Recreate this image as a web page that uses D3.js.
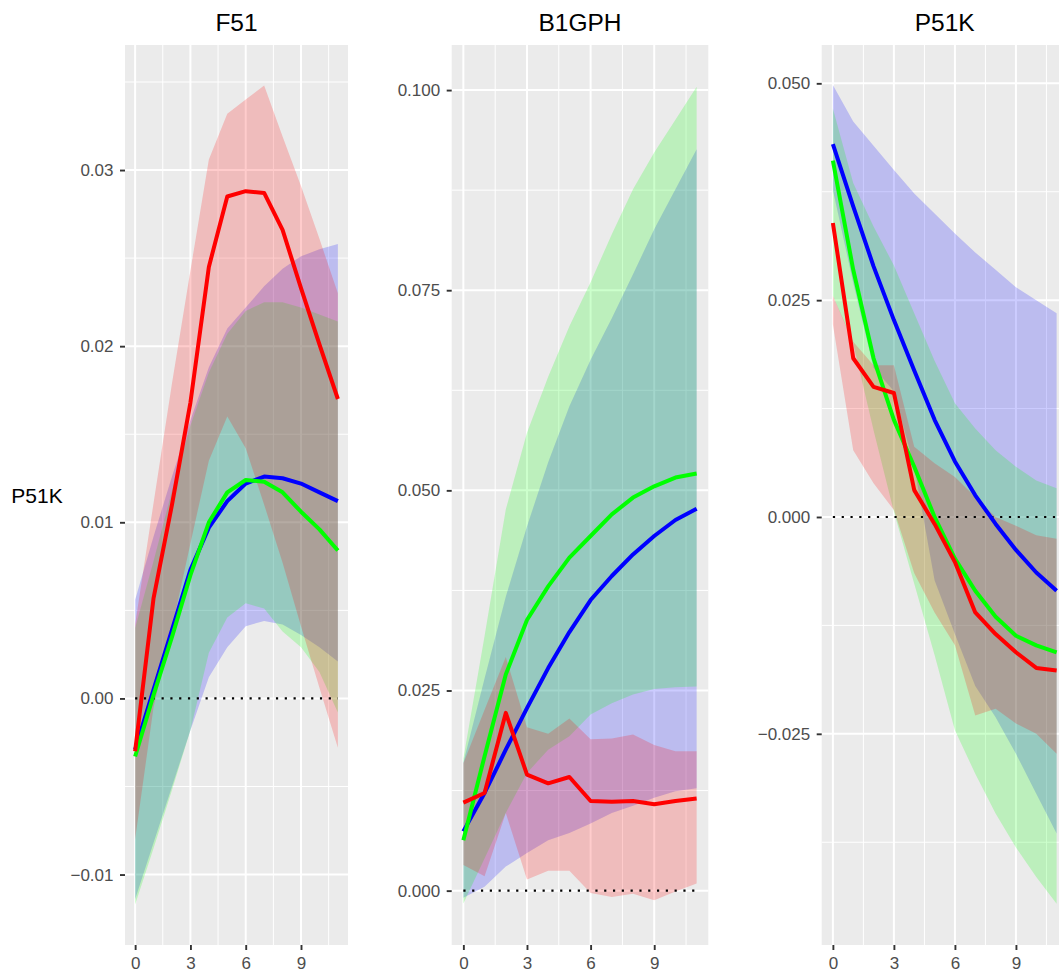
<!DOCTYPE html>
<html>
<head>
<meta charset="utf-8">
<script src="https://cdn.jsdelivr.net/npm/d3@7"></script>
<style>
  body { margin: 0; background: #ffffff; }
  svg { display: block; font-family: "Liberation Sans", Arial, Helvetica, sans-serif; }
</style>
</head>
<body>
<div id="chart"></div>
<script>
// horizon steps shared by every panel
var steps = [0, 1, 2, 3, 4, 5, 6, 7, 8, 9, 10, 11];
var xTicks = [0, 3, 6, 9];

// ---- F51 panel ----
var f51Red = [-0.0030, 0.0057, 0.0110, 0.0168, 0.0245, 0.0285, 0.0288, 0.0287, 0.0266, 0.0233, 0.0201, 0.0170];
var f51RedLo = [-0.0080, -0.0005, 0.0040, 0.0088, 0.0135, 0.0160, 0.0142, 0.0110, 0.0077, 0.0041, 0.0006, -0.0028];
var f51RedHi = [0.0042, 0.0111, 0.0179, 0.0243, 0.0306, 0.0332, 0.0340, 0.0348, 0.0319, 0.0291, 0.0261, 0.0230];
var f51Green = [-0.0033, 0.0002, 0.0035, 0.0070, 0.0100, 0.0117, 0.0124, 0.0123, 0.0117, 0.0106, 0.0096, 0.0084];
var f51GreenLo = [-0.0117, -0.0085, -0.0052, -0.0018, 0.0026, 0.0046, 0.0054, 0.0051, 0.0038, 0.0029, 0.0015, -0.0008];
var f51GreenHi = [0.0040, 0.0078, 0.0118, 0.0155, 0.0185, 0.0207, 0.0220, 0.0225, 0.0225, 0.0222, 0.0218, 0.0214];
var f51Blue = [-0.0029, 0.0005, 0.0039, 0.0073, 0.0097, 0.0112, 0.0122, 0.0126, 0.0125, 0.0122, 0.0117, 0.0112];
var f51BlueLo = [-0.0114, -0.0082, -0.0050, -0.0018, 0.0012, 0.0029, 0.0041, 0.0044, 0.0042, 0.0036, 0.0029, 0.0021];
var f51BlueHi = [0.0056, 0.0092, 0.0126, 0.0158, 0.0188, 0.0210, 0.0222, 0.0234, 0.0244, 0.0251, 0.0255, 0.0258];
var f51Ticks = [-0.01, 0.00, 0.01, 0.02, 0.03];

// ---- B1GPH panel ----
var b1gphRed = [0.0110, 0.0122, 0.0222, 0.0145, 0.0134, 0.0142, 0.0112, 0.0111, 0.0112, 0.0108, 0.0112, 0.0115];
var b1gphRedLo = [0.0032, 0.0018, 0.0097, 0.0014, 0.0025, 0.0025, -0.0003, -0.0008, -0.0004, -0.0012, -0.0001, 0.0009];
var b1gphRedHi = [0.0159, 0.0226, 0.0292, 0.0204, 0.0196, 0.0215, 0.0189, 0.0190, 0.0195, 0.0182, 0.0174, 0.0174];
var b1gphGreen = [0.0063, 0.0168, 0.0270, 0.0338, 0.0380, 0.0416, 0.0443, 0.0470, 0.0491, 0.0505, 0.0516, 0.0521];
var b1gphGreenLo = [-0.0016, 0.0040, 0.0097, 0.0147, 0.0176, 0.0193, 0.0220, 0.0234, 0.0245, 0.0252, 0.0254, 0.0255];
var b1gphGreenHi = [0.0165, 0.0318, 0.0476, 0.0572, 0.0642, 0.0705, 0.0760, 0.0820, 0.0876, 0.0922, 0.0963, 0.1004];
var b1gphBlue = [0.0074, 0.0122, 0.0176, 0.0228, 0.0278, 0.0323, 0.0363, 0.0393, 0.0420, 0.0443, 0.0463, 0.0477];
var b1gphBlueLo = [-0.0009, 0.0005, 0.0030, 0.0047, 0.0063, 0.0072, 0.0084, 0.0097, 0.0106, 0.0116, 0.0124, 0.0128];
var b1gphBlueHi = [0.0160, 0.0265, 0.0367, 0.0455, 0.0535, 0.0605, 0.0663, 0.0715, 0.0770, 0.0826, 0.0876, 0.0926];
var b1gphTicks = [0.000, 0.025, 0.050, 0.075, 0.100];

// ---- P51K panel ----
var p51kRed = [0.0339, 0.0183, 0.0150, 0.0143, 0.0031, -0.0008, -0.0052, -0.0110, -0.0135, -0.0156, -0.0174, -0.0177];
var p51kRedLo = [0.0222, 0.0077, 0.0039, 0.0008, -0.0065, -0.0110, -0.0148, -0.0229, -0.0221, -0.0238, -0.0250, -0.0273];
var p51kRedHi = [0.0255, 0.0202, 0.0175, 0.0175, 0.0081, 0.0062, 0.0046, 0.0023, 0.0000, -0.0010, -0.0021, -0.0025];
var p51kGreen = [0.0411, 0.0285, 0.0183, 0.0112, 0.0058, 0.0000, -0.0048, -0.0085, -0.0115, -0.0137, -0.0148, -0.0156];
var p51kGreenLo = [0.0255, 0.0200, 0.0100, 0.0006, -0.0077, -0.0159, -0.0246, -0.0296, -0.0342, -0.0381, -0.0415, -0.0446];
var p51kGreenHi = [0.0471, 0.0385, 0.0335, 0.0290, 0.0235, 0.0180, 0.0131, 0.0102, 0.0077, 0.0058, 0.0042, 0.0033];
var p51kBlue = [0.0430, 0.0358, 0.0289, 0.0227, 0.0169, 0.0112, 0.0064, 0.0025, -0.0008, -0.0038, -0.0064, -0.0085];
var p51kBlueLo = [0.0377, 0.0270, 0.0172, 0.0145, 0.0058, -0.0073, -0.0135, -0.0195, -0.0231, -0.0273, -0.0319, -0.0365];
var p51kBlueHi = [0.0498, 0.0456, 0.0428, 0.0400, 0.0373, 0.0350, 0.0327, 0.0305, 0.0285, 0.0265, 0.0250, 0.0235];
var p51kTicks = [-0.025, 0.000, 0.025, 0.050];

var svgWidth = 1059;
var svgHeight = 972;

// panel boxes (pixel layout) and y ranges
// series are listed in drawing order: blue, then green, then red on top
var panels = [
  {
    title: "F51", left: 125, right: 348, yMin: -0.014, yMax: 0.0371,
    ticks: f51Ticks, fmt: ".2f",
    series: [
      { color: "#0000ff", mid: f51Blue, lo: f51BlueLo, hi: f51BlueHi },
      { color: "#00ff00", mid: f51Green, lo: f51GreenLo, hi: f51GreenHi },
      { color: "#ff0000", mid: f51Red, lo: f51RedLo, hi: f51RedHi }
    ]
  },
  {
    title: "B1GPH", left: 451.7, right: 708.3, yMin: -0.00679, yMax: 0.10563,
    ticks: b1gphTicks, fmt: ".3f",
    series: [
      { color: "#0000ff", mid: b1gphBlue, lo: b1gphBlueLo, hi: b1gphBlueHi },
      { color: "#00ff00", mid: b1gphGreen, lo: b1gphGreenLo, hi: b1gphGreenHi },
      { color: "#ff0000", mid: b1gphRed, lo: b1gphRedLo, hi: b1gphRedHi }
    ]
  },
  {
    title: "P51K", left: 821.7, right: 1067.8, yMin: -0.04935, yMax: 0.05442,
    ticks: p51kTicks, fmt: ".3f",
    series: [
      { color: "#0000ff", mid: p51kBlue, lo: p51kBlueLo, hi: p51kBlueHi },
      { color: "#00ff00", mid: p51kGreen, lo: p51kGreenLo, hi: p51kGreenHi },
      { color: "#ff0000", mid: p51kRed, lo: p51kRedLo, hi: p51kRedHi }
    ]
  }
];

var panelTop = 45;
var panelBottom = 945;

var svg = d3
  .select("#chart")
  .append("svg")
  .attr("width", svgWidth)
  .attr("height", svgHeight);

panels.forEach(function (p) {
  var xScale = d3.scaleLinear().domain([-0.55, 11.55]).range([p.left, p.right]);
  var yScale = d3.scaleLinear().domain([p.yMin, p.yMax]).range([panelBottom, panelTop]);

  var g = svg.append("g");

  // gray panel background
  g.append("rect")
    .attr("x", p.left)
    .attr("y", panelTop)
    .attr("width", p.right - p.left)
    .attr("height", panelBottom - panelTop)
    .attr("fill", "#ebebeb");

  // minor grid lines sit halfway between the majors
  var yMinor = [];
  var step = p.ticks[1] - p.ticks[0];
  for (var i = 0; i < p.ticks.length + 1; i++) {
    var v = p.ticks[0] + step * (i - 0.5);
    if (v > p.yMin && v < p.yMax) yMinor.push(v);
  }
  var xMinor = [1.5, 4.5, 7.5, 10.5];

  g.selectAll(".ymin")
    .data(yMinor)
    .enter()
    .append("line")
    .attr("x1", p.left)
    .attr("x2", p.right)
    .attr("y1", (d) => yScale(d))
    .attr("y2", (d) => yScale(d))
    .attr("stroke", "#ffffff")
    .attr("stroke-width", 1);

  g.selectAll(".xmin")
    .data(xMinor)
    .enter()
    .append("line")
    .attr("x1", (d) => xScale(d))
    .attr("x2", (d) => xScale(d))
    .attr("y1", panelTop)
    .attr("y2", panelBottom)
    .attr("stroke", "#ffffff")
    .attr("stroke-width", 1);

  g.selectAll(".ymaj")
    .data(p.ticks)
    .enter()
    .append("line")
    .attr("x1", p.left)
    .attr("x2", p.right)
    .attr("y1", (d) => yScale(d))
    .attr("y2", (d) => yScale(d))
    .attr("stroke", "#ffffff")
    .attr("stroke-width", 2);

  g.selectAll(".xmaj")
    .data(xTicks)
    .enter()
    .append("line")
    .attr("x1", (d) => xScale(d))
    .attr("x2", (d) => xScale(d))
    .attr("y1", panelTop)
    .attr("y2", panelBottom)
    .attr("stroke", "#ffffff")
    .attr("stroke-width", 2);

  // confidence ribbons
  var area = d3
    .area()
    .x((d, i) => xScale(steps[i]))
    .y0((d) => yScale(d[0]))
    .y1((d) => yScale(d[1]));

  p.series.forEach(function (s) {
    var band = steps.map((d, i) => [s.lo[i], s.hi[i]]);
    g.append("path")
      .attr("d", area(band))
      .attr("fill", s.color)
      .attr("fill-opacity", 0.2);
  });

  // dotted zero line
  var zeroLine = d3
    .line()
    .x((d) => xScale(d))
    .y(() => yScale(0));
  g.append("path")
    .attr("d", zeroLine([steps[0], steps[steps.length - 1]]))
    .attr("fill", "none")
    .attr("stroke", "#000000")
    .attr("stroke-width", 2.2)
    .attr("stroke-dasharray", "2.2,6.6");

  // point estimates
  var line = d3
    .line()
    .x((d, i) => xScale(steps[i]))
    .y((d) => yScale(d));

  p.series.forEach(function (s) {
    g.append("path")
      .attr("d", line(s.mid))
      .attr("fill", "none")
      .attr("stroke", s.color)
      .attr("stroke-width", 4)
      .attr("stroke-linejoin", "round");
  });

  // axes
  var leftAxis = d3
    .axisLeft(yScale)
    .tickValues(p.ticks)
    .tickFormat(d3.format(p.fmt))
    .tickSize(5)
    .tickPadding(6.5);

  var bottomAxis = d3
    .axisBottom(xScale)
    .tickValues(xTicks)
    .tickFormat(d3.format("d"))
    .tickSize(5)
    .tickPadding(6.5);

  var yAxis = g.append("g")
    .attr("transform", `translate(${p.left}, 0)`)
    .call(leftAxis);

  var xAxis = g.append("g")
    .attr("transform", `translate(0, ${panelBottom})`)
    .call(bottomAxis);

  [yAxis, xAxis].forEach(function (ax) {
    ax.attr("font-size", 17).attr("font-family", "'Liberation Sans', Arial, sans-serif");
    ax.select(".domain").remove();
    ax.selectAll(".tick line").attr("stroke", "#333333").attr("stroke-width", 1.9);
    ax.selectAll(".tick text").attr("fill", "#4d4d4d");
  });

  // panel title
  svg.append("text")
    .attr("x", (p.left + p.right) / 2)
    .attr("y", 31)
    .attr("text-anchor", "middle")
    .style("font-size", "24.5px")
    .attr("fill", "#000000")
    .text(p.title);
});

// y axis title of the first panel
svg.append("text")
  .attr("x", 37)
  .attr("y", 503)
  .attr("text-anchor", "middle")
  .style("font-size", "21px")
  .attr("fill", "#000000")
  .text("P51K");
</script>
</body>
</html>
